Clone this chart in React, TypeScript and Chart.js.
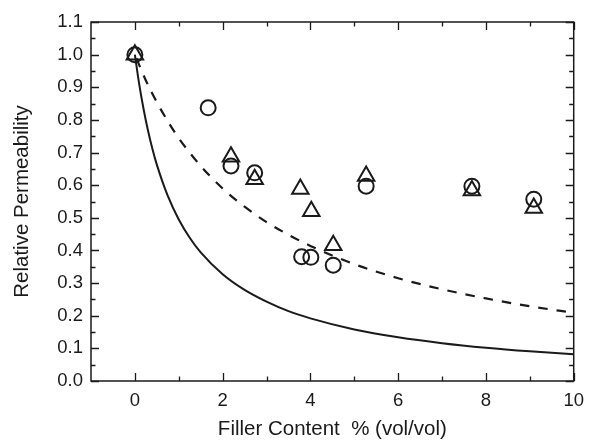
import React, { useEffect, useRef } from "react";
import { Chart, registerables } from "chart.js";

Chart.register(...registerables);

// Measured data
const circleX = [0, 1.67, 2.19, 2.73, 3.8, 4.01, 4.52, 5.27, 7.68, 9.09];
const circleY = [1.0, 0.837, 0.659, 0.638, 0.381, 0.379, 0.355, 0.597, 0.597, 0.557];
const triangleX = [0, 2.19, 2.73, 3.77, 4.02, 4.52, 5.27, 7.68, 9.09];
const triangleY = [1.0, 0.687, 0.618, 0.588, 0.52, 0.416, 0.628, 0.584, 0.53];

// Model curves
const solidX = [0, 0.1, 0.2, 0.3, 0.4, 0.5, 0.75, 1, 1.25, 1.5, 2, 2.5, 3, 3.5, 4, 5, 6, 7, 8, 9, 10];
const solidY = [1.0, 0.908, 0.832, 0.767, 0.711, 0.663, 0.567, 0.495, 0.439, 0.394, 0.327, 0.279, 0.243, 0.214, 0.192, 0.158, 0.134, 0.116, 0.102, 0.091, 0.082];
const dashedX = [0, 0.25, 0.5, 0.75, 1, 1.5, 2, 2.5, 3, 3.5, 4, 5, 6, 7, 8, 9, 10];
const dashedY = [1.0, 0.921, 0.854, 0.796, 0.744, 0.659, 0.59, 0.534, 0.487, 0.448, 0.414, 0.358, 0.315, 0.281, 0.253, 0.229, 0.209];

// Axis ticks
const xTicks = [0, 2, 4, 6, 8, 10];
const xMinorTicks = [1, 3, 5, 7, 9];
const yTicks = [0, 0.1, 0.2, 0.3, 0.4, 0.5, 0.6, 0.7, 0.8, 0.9, 1.0, 1.1];
const yMinorTicks = [0.05, 0.15, 0.25, 0.35, 0.45, 0.55, 0.65, 0.75, 0.85, 0.95, 1.05];

const INK = "#1a1a1a";
const FONT = "'Liberation Sans', Arial, sans-serif";

const pts = (xs: number[], ys: number[]) => xs.map((x, i) => ({ x, y: ys[i] }));

const framePlugin = {
  id: "frameTicks",
  afterDatasetsDraw(chart: any) {
    const { ctx, chartArea: a, scales } = chart;
    const xs = scales.x;
    const ys = scales.y;
    ctx.save();
    ctx.strokeStyle = INK;
    ctx.lineWidth = 1.5;
    ctx.strokeRect(a.left, a.top, a.right - a.left, a.bottom - a.top);
    ctx.lineWidth = 1.3;
    ctx.beginPath();
    const major = 8;
    const minor = 4.5;
    const xt = (v: number, len: number) => {
      const px = Math.round(xs.getPixelForValue(v)) + 0.5;
      ctx.moveTo(px, a.bottom);
      ctx.lineTo(px, a.bottom - len);
      ctx.moveTo(px, a.top);
      ctx.lineTo(px, a.top + len);
    };
    const yt = (v: number, len: number) => {
      const py = Math.round(ys.getPixelForValue(v)) + 0.5;
      ctx.moveTo(a.left, py);
      ctx.lineTo(a.left + len, py);
      ctx.moveTo(a.right, py);
      ctx.lineTo(a.right - len, py);
    };
    xTicks.forEach((v) => xt(v, major));
    xMinorTicks.forEach((v) => xt(v, minor));
    yTicks.forEach((v) => yt(v, major));
    yMinorTicks.forEach((v) => yt(v, minor));
    ctx.stroke();
    ctx.restore();
  },
};

export default function App() {
  const ref = useRef<HTMLCanvasElement>(null);
  useEffect(() => {
    document.body.style.margin = "0";
    const chart = new Chart(ref.current!, {
      type: "scatter",
      data: {
        datasets: [
          {
            data: pts(solidX, solidY),
            showLine: true,
            pointRadius: 0,
            borderColor: INK,
            borderWidth: 2,
            cubicInterpolationMode: "monotone",
            fill: false,
          },
          {
            data: pts(dashedX, dashedY),
            showLine: true,
            pointRadius: 0,
            borderColor: INK,
            borderWidth: 2.2,
            borderDash: [9.5, 9],
            borderDashOffset: -4,
            cubicInterpolationMode: "monotone",
            fill: false,
          },
          {
            data: pts(circleX, circleY),
            pointStyle: "circle",
            pointRadius: 7.5,
            pointBorderWidth: 2,
            pointBorderColor: INK,
            pointBackgroundColor: "rgba(0,0,0,0)",
          },
          {
            data: pts(triangleX, triangleY),
            pointStyle: "triangle",
            pointRadius: 9.5,
            pointBorderWidth: 2,
            pointBorderColor: INK,
            pointBackgroundColor: "rgba(0,0,0,0)",
          },
        ],
      } as any,
      options: {
        animation: false,
        responsive: true,
        maintainAspectRatio: false,
        layout: { padding: { top: 22, right: 13, left: 0, bottom: 0 } },
        plugins: { legend: { display: false }, tooltip: { enabled: false } },
        scales: {
          x: {
            type: "linear",
            min: -1,
            max: 10,
            grid: { display: false, drawTicks: false },
            border: { display: false },
            afterBuildTicks: (s: any) => {
              s.ticks = xTicks.map((v) => ({ value: v }));
            },
            afterFit: (s: any) => {
              s.height = 61;
            },
            ticks: {
              padding: 9,
              color: INK,
              font: { family: FONT, size: 18.5 },
              callback: (v: any) => String(v),
            },
            title: {
              display: true,
              text: "Filler Content  % (vol/vol)",
              color: INK,
              font: { family: FONT, size: 20.5 },
              padding: { top: 0, bottom: 0 },
            },
          },
          y: {
            type: "linear",
            min: 0,
            max: 1.1,
            grid: { display: false, drawTicks: false },
            border: { display: false },
            afterBuildTicks: (s: any) => {
              s.ticks = yTicks.map((v) => ({ value: v }));
            },
            afterFit: (s: any) => {
              s.width = 91;
            },
            ticks: {
              padding: 8,
              color: INK,
              font: { family: FONT, size: 18.5 },
              callback: (v: any) => Number(v).toFixed(1),
            },
            title: {
              display: true,
              text: "Relative Permeability",
              color: INK,
              font: { family: FONT, size: 20.5 },
              padding: { top: 10, bottom: 0 },
            },
          },
        },
      } as any,
      plugins: [framePlugin],
    });
    return () => chart.destroy();
  }, []);
  return (
    <div style={{ width: 593, height: 442, position: "relative", background: "#fff" }}>
      <canvas ref={ref} />
    </div>
  );
}
